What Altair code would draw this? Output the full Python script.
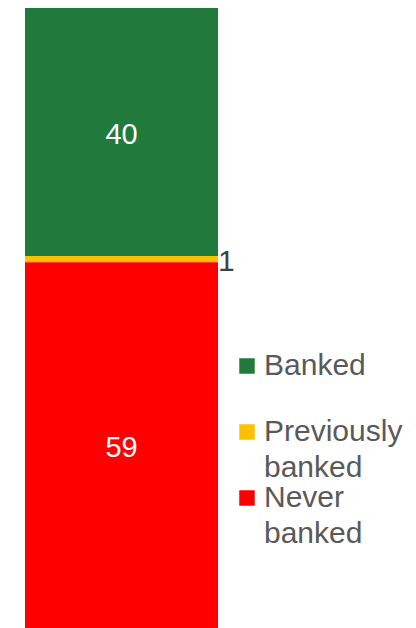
import altair as alt
import pandas as pd

categories = ["Banked", "Previously banked", "Never banked"]
values = [40, 1, 59]
stack_order = [2, 1, 0]
colors = ["#217a3c", "#ffc000", "#ff0000"]

df = pd.DataFrame({
    "group": ["All"] * 3,
    "category": categories,
    "value": values,
    "order": stack_order,
})

FONT = "Liberation Sans"

base = alt.Chart(df).transform_stack(
    stack="value", groupby=["group"], as_=["y0", "y1"],
    sort=[alt.SortField("order", order="ascending")]
).transform_calculate(mid="(datum.y0 + datum.y1) / 2")

xscale = alt.Scale(paddingInner=0, paddingOuter=0)
yscale = alt.Scale(domain=[0, 100], nice=False)

bars = base.mark_bar().encode(
    x=alt.X("group:N", axis=None, scale=xscale),
    y=alt.Y("y0:Q", axis=None, scale=yscale),
    y2="y1:Q",
    color=alt.Color(
        "category:N",
        scale=alt.Scale(domain=categories, range=colors),
        legend=alt.Legend(
            title=None, orient="none", legendX=207, legendY=343,
            symbolType="square", symbolSize=240, symbolStrokeWidth=0,
            labelFont=FONT, labelFontSize=30, labelColor="#595959",
            labelExpr="indexof(datum.label, ' ') < 0 ? [datum.label, ' '] : split(datum.label, ' ')",
            labelLimit=400,
            labelOffset=2, rowPadding=-7, padding=0,
        ),
    ),
)

inside = base.transform_filter("datum.value >= 5").mark_text(
    color="white", fontSize=29, font=FONT, dy=3
).encode(
    x=alt.X("group:N", axis=None, scale=xscale),
    y=alt.Y("mid:Q", axis=None, scale=yscale),
    text="value:Q",
)

outside = base.transform_filter("datum.value < 5").mark_text(
    color="#404040", fontSize=30, font=FONT, align="left", dy=3
).encode(
    x=alt.X("group:N", axis=None, scale=xscale, bandPosition=1),
    y=alt.Y("mid:Q", axis=None, scale=yscale),
    text="value:Q",
)

chart = alt.layer(bars, inside, outside).properties(
    width=193, height=620,
    padding={"left": 25, "top": 8, "right": 198, "bottom": 0},
    autosize=alt.AutoSizeParams(type="none"),
).configure(
    view={"stroke": None},
    style={"guide-label": {"lineHeight": 36}},
)

chart.save("out.html", embed_options={"renderer": "svg", "actions": False})
